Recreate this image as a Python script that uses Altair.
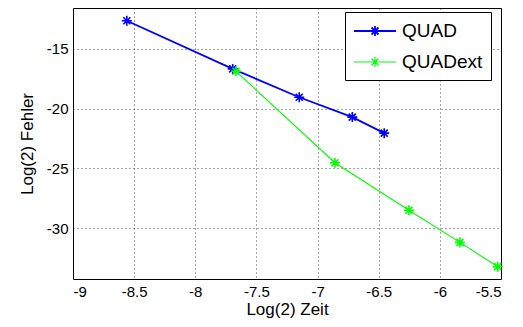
import altair as alt
import pandas as pd

series = ["QUAD", "QUADext"]
quad_x = [-8.56, -7.694, -7.15, -6.716, -6.455]
quad_y = [-12.67, -16.69, -19.06, -20.72, -22.06]
ext_x = [-7.667, -6.858, -6.253, -5.836, -5.527]
ext_y = [-16.89, -24.53, -28.5, -31.19, -33.22]
x_ticks = [-9, -8.5, -8, -7.5, -7, -6.5, -6, -5.5]
y_ticks = [-15, -20, -25, -30]

rows = []
for i, (x, y) in enumerate(zip(quad_x, quad_y)):
    rows.append({"s": series[0], "x": x, "y": y, "o": i})
for i, (x, y) in enumerate(zip(ext_x, ext_y)):
    rows.append({"s": series[1], "x": x, "y": y, "o": i})
df = pd.DataFrame(rows)

FONT = "Liberation Sans"
star = "M-1,0L1,0M0,-1L0,1M-0.7,-0.7L0.7,0.7M-0.7,0.7L0.7,-0.7"
# legend symbol: line segment with an asterisk in its middle (unit = 10px)
legend_sym = ("M-2.1,0L2.1,0M0,-0.5L0,0.5M-0.5,0L0.5,0"
              "M-0.35,-0.35L0.35,0.35M-0.35,0.35L0.35,-0.35")

color = alt.Color(
    "s:N",
    scale=alt.Scale(domain=series, range=["#0000ff", "#00ff00"]),
    legend=alt.Legend(
        title=None, orient="none", legendX=272, legendY=4,
        strokeColor="black", fillColor="white",
        padding=8,
        symbolType=legend_sym, symbolSize=400, symbolStrokeWidth=1.5,
        symbolFillColor="transparent", symbolOffset=11,
        labelFont=FONT, labelFontSize=19, labelColor="black",
        labelOffset=16, rowPadding=10, cornerRadius=0,
    ),
)

lab = "datum.value + ''"
xenc = alt.X("x:Q", scale=alt.Scale(domain=[-9, -5.5], nice=False, zero=False),
             axis=alt.Axis(values=x_ticks, title="Log(2) Zeit", labelExpr=lab))
yenc = alt.Y("y:Q", scale=alt.Scale(domain=[-34.25, -11.6], nice=False, zero=False),
             axis=alt.Axis(values=y_ticks, title="Log(2) Fehler", labelExpr=lab))

lines = alt.Chart(df).mark_line().encode(
    x=xenc, y=yenc, order="o:O", stroke=color,
    strokeWidth=alt.StrokeWidth("s:N", scale=alt.Scale(domain=series, range=[1.8, 1.1]), legend=None),
)
pts = alt.Chart(df).mark_point(shape=star, size=100, filled=False, strokeWidth=1.6, opacity=1).encode(
    x=xenc, y=yenc, stroke=color,
)

chart = (lines + pts).properties(
    width=428, height=271,
    autosize=alt.AutoSizeParams(type="none"),
    padding={"left": 65, "top": 0, "right": 10, "bottom": 40},
).configure_view(
    stroke="black", strokeWidth=1,
).configure_axis(
    labelFont=FONT, labelFontSize=15, labelColor="black",
    titleFont=FONT, titleFontSize=17, titleColor="black", titleFontWeight="normal",
    domain=False, ticks=False, labelPadding=5,
    grid=True, gridColor="#000000", gridDash=[1, 3], gridOpacity=0.7, gridWidth=1,
).configure_axisX(titlePadding=2).configure_axisY(titlePadding=10)

chart.save("out.html", embed_options={"renderer": "svg", "actions": False})
